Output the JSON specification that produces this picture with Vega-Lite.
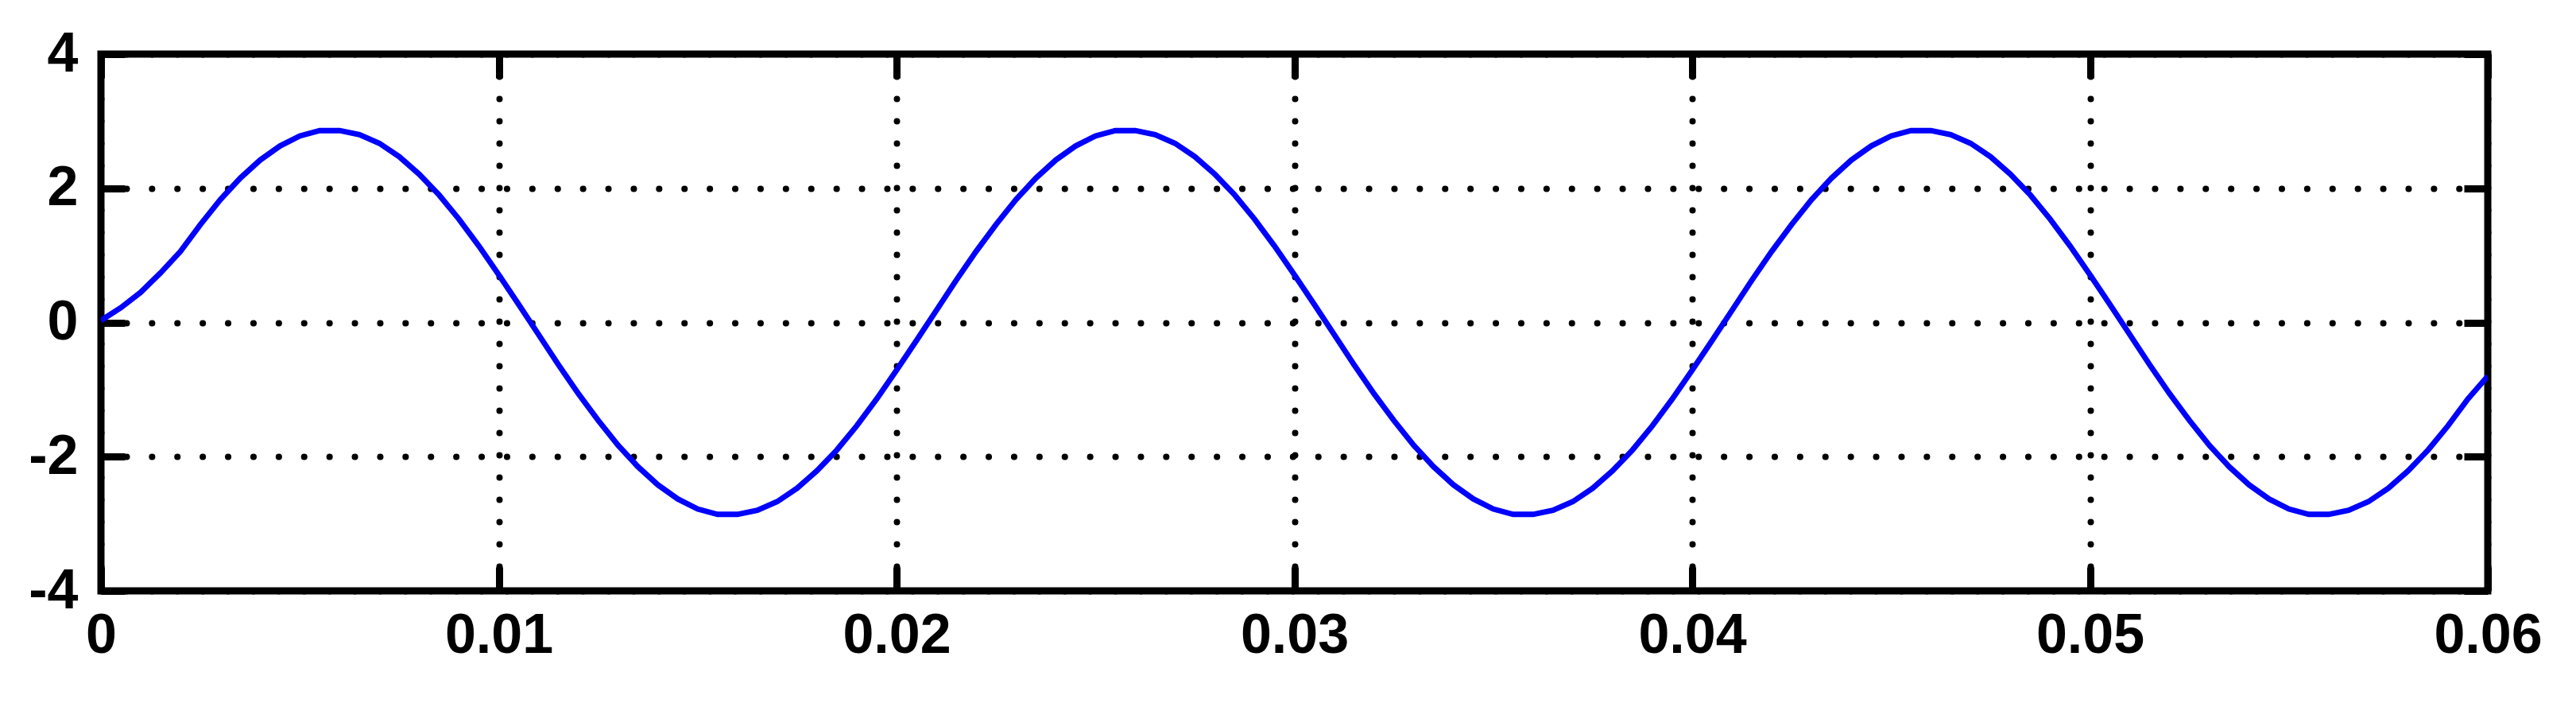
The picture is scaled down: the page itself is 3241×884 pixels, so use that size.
{
  "$schema": "https://vega.github.io/schema/vega-lite/v6.json",
  "width": 3003,
  "height": 675,
  "autosize": {"type": "none"},
  "padding": {"left": 127, "top": 68, "right": 111, "bottom": 141},
  "background": "white",
  "config": {
    "view": {"stroke": "black", "strokeWidth": 9},
    "axis": {
      "labelFont": "Liberation Sans",
      "labelFontWeight": "bold",
      "labelFontSize": 70,
      "labelColor": "black",
      "tickColor": "black",
      "tickWidth": 9,
      "tickSize": -30,
      "domain": false,
      "labelFlush": false,
      "labelOverlap": false,
      "labelBound": false,
      "gridColor": "black",
      "gridOpacity": 1,
      "gridWidth": 8,
      "gridCap": "round"
    }
  },
  "data": {"values": [
    {"t": 0, "v": 0.03}, {"t": 0.0005, "v": 0.22}, {"t": 0.001, "v": 0.45}, {"t": 0.0015, "v": 0.74},
    {"t": 0.002, "v": 1.06}, {"t": 0.0025, "v": 1.46}, {"t": 0.003, "v": 1.83}, {"t": 0.0035, "v": 2.15},
    {"t": 0.004, "v": 2.42}, {"t": 0.0045, "v": 2.63}, {"t": 0.005, "v": 2.78}, {"t": 0.0055, "v": 2.86},
    {"t": 0.006, "v": 2.86}, {"t": 0.0065, "v": 2.8}, {"t": 0.007, "v": 2.67}, {"t": 0.0075, "v": 2.47},
    {"t": 0.008, "v": 2.21}, {"t": 0.0085, "v": 1.9}, {"t": 0.009, "v": 1.54}, {"t": 0.0095, "v": 1.14},
    {"t": 0.01, "v": 0.71}, {"t": 0.0105, "v": 0.27}, {"t": 0.011, "v": -0.18}, {"t": 0.0115, "v": -0.63},
    {"t": 0.012, "v": -1.06}, {"t": 0.0125, "v": -1.46}, {"t": 0.013, "v": -1.83}, {"t": 0.0135, "v": -2.15},
    {"t": 0.014, "v": -2.42}, {"t": 0.0145, "v": -2.63}, {"t": 0.015, "v": -2.78}, {"t": 0.0155, "v": -2.86},
    {"t": 0.016, "v": -2.86}, {"t": 0.0165, "v": -2.8}, {"t": 0.017, "v": -2.67}, {"t": 0.0175, "v": -2.47},
    {"t": 0.018, "v": -2.21}, {"t": 0.0185, "v": -1.9}, {"t": 0.019, "v": -1.54}, {"t": 0.0195, "v": -1.14},
    {"t": 0.02, "v": -0.71}, {"t": 0.0205, "v": -0.27}, {"t": 0.021, "v": 0.18}, {"t": 0.0215, "v": 0.63},
    {"t": 0.022, "v": 1.06}, {"t": 0.0225, "v": 1.46}, {"t": 0.023, "v": 1.83}, {"t": 0.0235, "v": 2.15},
    {"t": 0.024, "v": 2.42}, {"t": 0.0245, "v": 2.63}, {"t": 0.025, "v": 2.78}, {"t": 0.0255, "v": 2.86},
    {"t": 0.026, "v": 2.86}, {"t": 0.0265, "v": 2.8}, {"t": 0.027, "v": 2.67}, {"t": 0.0275, "v": 2.47},
    {"t": 0.028, "v": 2.21}, {"t": 0.0285, "v": 1.9}, {"t": 0.029, "v": 1.54}, {"t": 0.0295, "v": 1.14},
    {"t": 0.03, "v": 0.71}, {"t": 0.0305, "v": 0.27}, {"t": 0.031, "v": -0.18}, {"t": 0.0315, "v": -0.63},
    {"t": 0.032, "v": -1.06}, {"t": 0.0325, "v": -1.46}, {"t": 0.033, "v": -1.83}, {"t": 0.0335, "v": -2.15},
    {"t": 0.034, "v": -2.42}, {"t": 0.0345, "v": -2.63}, {"t": 0.035, "v": -2.78}, {"t": 0.0355, "v": -2.86},
    {"t": 0.036, "v": -2.86}, {"t": 0.0365, "v": -2.8}, {"t": 0.037, "v": -2.67}, {"t": 0.0375, "v": -2.47},
    {"t": 0.038, "v": -2.21}, {"t": 0.0385, "v": -1.9}, {"t": 0.039, "v": -1.54}, {"t": 0.0395, "v": -1.14},
    {"t": 0.04, "v": -0.71}, {"t": 0.0405, "v": -0.27}, {"t": 0.041, "v": 0.18}, {"t": 0.0415, "v": 0.63},
    {"t": 0.042, "v": 1.06}, {"t": 0.0425, "v": 1.46}, {"t": 0.043, "v": 1.83}, {"t": 0.0435, "v": 2.15},
    {"t": 0.044, "v": 2.42}, {"t": 0.0445, "v": 2.63}, {"t": 0.045, "v": 2.78}, {"t": 0.0455, "v": 2.86},
    {"t": 0.046, "v": 2.86}, {"t": 0.0465, "v": 2.8}, {"t": 0.047, "v": 2.67}, {"t": 0.0475, "v": 2.47},
    {"t": 0.048, "v": 2.21}, {"t": 0.0485, "v": 1.9}, {"t": 0.049, "v": 1.54}, {"t": 0.0495, "v": 1.14},
    {"t": 0.05, "v": 0.71}, {"t": 0.0505, "v": 0.27}, {"t": 0.051, "v": -0.18}, {"t": 0.0515, "v": -0.63},
    {"t": 0.052, "v": -1.06}, {"t": 0.0525, "v": -1.46}, {"t": 0.053, "v": -1.83}, {"t": 0.0535, "v": -2.15},
    {"t": 0.054, "v": -2.42}, {"t": 0.0545, "v": -2.63}, {"t": 0.055, "v": -2.78}, {"t": 0.0555, "v": -2.86},
    {"t": 0.056, "v": -2.86}, {"t": 0.0565, "v": -2.8}, {"t": 0.057, "v": -2.67}, {"t": 0.0575, "v": -2.47},
    {"t": 0.058, "v": -2.21}, {"t": 0.0585, "v": -1.9}, {"t": 0.059, "v": -1.54}, {"t": 0.0595, "v": -1.14},
    {"t": 0.06, "v": -0.8}
  ]},
  "resolve": {"axis": {"x": "independent", "y": "independent"}},
  "layer": [
    {
      "mark": {"type": "line", "color": "#0000ff", "strokeWidth": 7, "clip": true},
      "encoding": {
        "x": {
          "field": "t", "type": "quantitative",
          "scale": {"domain": [0, 0.06], "nice": false, "zero": false},
          "axis": {
            "orient": "bottom", "title": null,
            "values": [0, 0.01, 0.02, 0.03, 0.04, 0.05, 0.06],
            "labelExpr": "'' + datum.value",
            "labelPadding": 52,
            "grid": true, "gridDash": [0.1, 27.9]
          }
        },
        "y": {
          "field": "v", "type": "quantitative",
          "scale": {"domain": [-4, 4], "nice": false},
          "axis": {
            "orient": "left", "title": null,
            "values": [-4, -2, 0, 2, 4],
            "labelExpr": "'' + datum.value",
            "labelPadding": 59,
            "grid": true, "gridDash": [0.1, 31.8]
          }
        }
      }
    },
    {
      "mark": {"type": "line", "opacity": 0},
      "encoding": {
        "x": {
          "field": "t", "type": "quantitative",
          "axis": {
            "orient": "top", "title": null, "labels": false, "grid": false,
            "values": [0, 0.01, 0.02, 0.03, 0.04, 0.05, 0.06]
          }
        },
        "y": {
          "field": "v", "type": "quantitative",
          "axis": {
            "orient": "right", "title": null, "labels": false, "grid": false,
            "values": [-4, -2, 0, 2, 4]
          }
        }
      }
    }
  ]
}
